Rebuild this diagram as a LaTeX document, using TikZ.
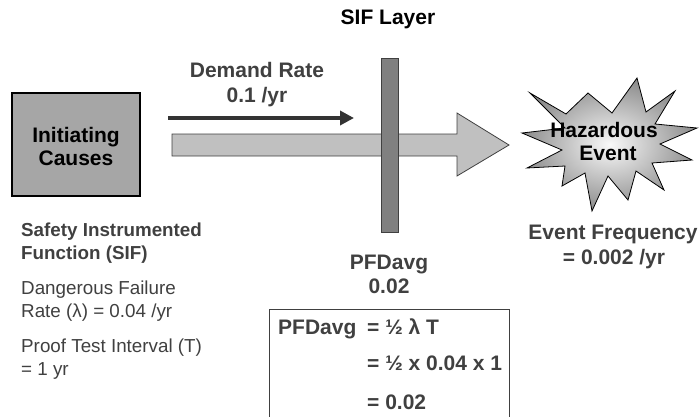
\documentclass[tikz,border=0pt]{standalone}
\usepackage{fontspec}
\setmainfont{Liberation Sans}
\usetikzlibrary{arrows.meta}
\definecolor{txtgray}{HTML}{404040}
\definecolor{boxgray}{HTML}{A6A6A6}
\definecolor{shaftgray}{HTML}{C0C0C0}
\definecolor{bargray}{HTML}{808080}
\definecolor{linegray}{HTML}{333333}
\newcommand\fsz{\fontsize{21}{24}\selectfont}
\newcommand\fsm{\fontsize{18.8}{23}\selectfont}
\begin{document}
\begin{tikzpicture}[x=1pt,y=-1pt,
  lbl/.style={font=\fsz\bfseries, text=txtgray, inner sep=0pt, anchor=base},
  lblw/.style={lbl, anchor=base west},
  sidew/.style={font=\fsm\bfseries, text=txtgray, inner sep=0pt, anchor=base west},
  plainw/.style={font=\fsm, text=txtgray, inner sep=0pt, anchor=base west},
  dark/.style={font=\fsz\bfseries, text=black, inner sep=0pt, anchor=base}]
\useasboundingbox (0,0) rectangle (699,416);
% Initiating causes box
\node[draw=black, line width=1.5pt, fill=boxgray, minimum width=128pt, minimum height=103pt, inner sep=0pt] (init) at (76,144.5) {};
\node[dark] (initA) at (76,142.5) {Initiating};
\node[dark] (initB) at (76,165.5) {Causes};
% demand rate arrow
\coordinate (drA) at (168,118);
\coordinate (drB) at (354,118);
\draw[linegray, line width=4pt, -{Triangle[length=14pt,width=14pt]}] (drA) -- (drB);
\node[lbl] (drT1) at (257,77.5) {Demand Rate};
\node[lbl] (drT2) at (257,102.5) {0.1 /yr};
% big arrow
\draw[fill=shaftgray, draw=txtgray, line width=0.8pt]
  (172,134) -- (457,134) -- (457,113) -- (509,145) -- (457,176) -- (457,156) -- (172,156) -- cycle;
% SIF layer bar
\node[draw=txtgray, line width=0.8pt, fill=bargray, minimum width=17pt, minimum height=174pt, inner sep=0pt] (bar) at (389.5,145) {};
\node[dark] (sifT) at (388,24.5) {SIF Layer};
% starburst
\shadedraw[inner color=white!95!gray, outer color=bargray!90!white, draw=black, line width=0.8pt]
  (530,93) -- (566,114) -- (588,93) -- (612,113) -- (637,78) -- (646,112)
  -- (675,91) -- (655,124) -- (697,128) -- (660,144) -- (692,160) -- (652,163)
  -- (664,190) -- (636,171) -- (628,200) -- (608,176) -- (592,211) -- (585,173)
  -- (562,186) -- (565,166) -- (527,168) -- (562,150) -- (522,133) -- (565,128) -- cycle;
\node[dark] (hazA) at (604,137.5) {Hazardous};
\node[dark] (hazB) at (608,160.5) {Event};
% event frequency
\node[lbl] (efA) at (613,239.5) {Event Frequency};
\node[lbl] (efB) at (614,264.5) {= 0.002 /yr};
% left text
\node[sidew] (sA) at (21,236) {Safety Instrumented};
\node[sidew] (sB) at (21,259) {Function (SIF)};
\node[plainw] (dA) at (21,294) {Dangerous Failure};
\node[plainw] (dB) at (21,317) {Rate (λ) = 0.04 /yr};
\node[plainw] (pA) at (21,352) {Proof Test Interval (T)};
\node[plainw] (pB) at (21,375) {= 1 yr};
% PFDavg label
\node[lbl] (pfA) at (389,269.5) {PFDavg};
\node[lbl] (pfB) at (389,293.5) {0.02};
% formula box
\draw[draw=txtgray, line width=0.8pt] (269,420) -- (269,309) -- (509,309) -- (509,420);
\node[lblw] (fA) at (278,334.5) {PFDavg};
\node[lblw] (fB) at (367,334.5) {= ½ λ T};
\node[lblw] (fC) at (367,370.5) {= ½ x 0.04 x 1};
\node[lblw] (fD) at (367,409.5) {= 0.02};
\end{tikzpicture}
\end{document}
